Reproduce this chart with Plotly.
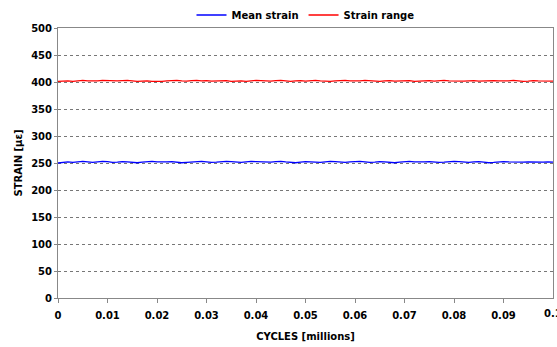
import numpy as np
import plotly.graph_objects as go

# Strain readings sampled across the first 0.1 million cycles
strain_range = [
    401, 401.5, 402, 401, 402.5, 403, 402, 401.5, 402, 403, 402.5, 401.5, 402, 402.5, 403, 402,
    401, 401.5, 402, 401, 400.5, 401, 402, 402.5, 403, 402, 401.5, 402.5, 403, 402, 402.5, 401.5,
    402, 403, 402.5, 401, 401.5, 402, 401, 402, 403, 402.5, 402, 401.5, 402.5, 403, 402, 401,
    402, 402.5, 401.5, 402, 403, 402, 401.5, 401, 402, 402.5, 403, 402, 401.5, 402, 403, 402.5,
    401.5, 401, 402, 402.5, 401.5, 402, 403, 402.5, 401, 401.5, 402, 402.5, 401.5, 402, 403, 402,
    401.5, 401, 401.5, 402, 402.5, 401.5, 402, 403, 402.5, 402, 401.5, 402, 403, 402, 401, 401.5,
    402.5, 402, 401.5, 402, 401.5,
]
mean_strain = [
    250, 251.5, 252, 251, 252.5, 253, 252, 251, 252, 253, 252.5, 251, 251.5, 252.5, 252, 251,
    250.5, 251.5, 252.5, 253, 252, 251.5, 252, 252.5, 251.5, 250.5, 251, 252, 252.5, 253, 252, 251,
    251.5, 252.5, 253, 252.5, 251.5, 251, 252, 253, 252.5, 252, 251, 251.5, 252.5, 253, 252, 251,
    250.5, 251.5, 252.5, 252, 251.5, 251, 252, 253, 252.5, 251.5, 251, 252, 252.5, 253, 252, 251,
    251.5, 252.5, 252, 251, 250.5, 251.5, 252.5, 253, 252, 251.5, 252, 252.5, 251.5, 251, 251.5,
    252.5, 253, 252.5, 251.5, 251, 252, 252.5, 251.5, 250.5, 251, 252, 252.5, 252, 251.5, 251,
    251.5, 252, 251.5, 251, 251.5, 252, 251.5,
]
cycles_mean = np.linspace(0, 0.1, len(mean_strain))
cycles_range = np.linspace(0, 0.1, len(strain_range))

y_ticks = [0, 50, 100, 150, 200, 250, 300, 350, 400, 450, 500]
x_ticks = [0, 0.01, 0.02, 0.03, 0.04, 0.05, 0.06, 0.07, 0.08, 0.09, 0.1]
x_labels = ["0", "0.01", "0.02", "0.03", "0.04", "0.05", "0.06", "0.07", "0.08", "0.09", "0.1"]

FONT = "DejaVu Sans"
AXIS_GREY = "#888888"

fig = go.Figure()
fig.add_trace(go.Scatter(x=cycles_mean, y=mean_strain, mode="lines", name="Mean strain",
                         line=dict(color="#0000ff", width=1.3)))
fig.add_trace(go.Scatter(x=cycles_range, y=strain_range, mode="lines", name="Strain range",
                         line=dict(color="#ff0000", width=1.3)))

fig.update_layout(
    width=557, height=347,
    margin=dict(l=58, r=4, t=28, b=49, autoexpand=False),
    paper_bgcolor="white", plot_bgcolor="white",
    font=dict(family=FONT, size=10, color="black", weight="bold"),
    showlegend=True,
    legend=dict(orientation="h", x=0.5, xanchor="center",
                yref="container", y=1 - 15 / 347, yanchor="middle",
                font=dict(family=FONT, size=10, weight="bold"),
                itemwidth=30, tracegroupgap=0, bgcolor="rgba(0,0,0,0)"),
)
fig.update_xaxes(
    range=[0, 0.1], tickmode="array", tickvals=x_ticks[:-1], ticktext=x_labels[:-1],
    showgrid=False, zeroline=False,
    showline=True, linecolor=AXIS_GREY, linewidth=1, mirror=True,
    ticks="outside", ticklen=4, tickcolor=AXIS_GREY,
    tickfont=dict(family=FONT, size=10, weight="bold"),
    ticklabelstandoff=4,
    title=dict(text="CYCLES [millions]", font=dict(family=FONT, size=10, weight="bold"), standoff=12),
)
# last x tick label sits on the right edge of the figure
fig.add_annotation(x=x_ticks[-1], y=0, xref="x", yref="paper", text=x_labels[-1],
                   showarrow=False, yanchor="top", yshift=-8,
                   font=dict(family=FONT, size=10, weight="bold"))
fig.update_yaxes(
    range=[0, 500], tickmode="array", tickvals=y_ticks,
    showgrid=True, gridcolor="#777777", griddash="dot", gridwidth=1,
    zeroline=False,
    showline=True, linecolor=AXIS_GREY, linewidth=1, mirror=True,
    ticks="outside", ticklen=3, tickcolor=AXIS_GREY,
    tickfont=dict(family=FONT, size=10, weight="bold"),
    title=dict(text="STRAIN [με]", font=dict(family=FONT, size=10, weight="bold"), standoff=6),
)

fig.write_html("out.html")
